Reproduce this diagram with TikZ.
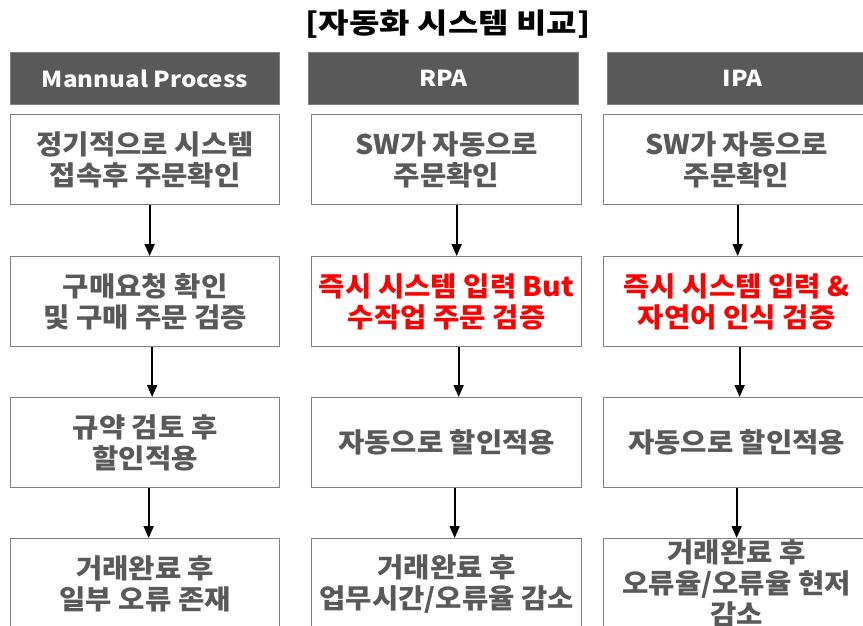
\documentclass[tikz,border=0pt]{standalone}
\usepackage{fontspec}
\setmainfont{Noto Sans CJK KR}
\newfontfamily\boxfont{Noto Sans CJK KR}[FakeStretch=1.06]
\newfontfamily\titlefont{Noto Sans CJK KR}[FakeStretch=1.18]
\newfontfamily\hdrfont{Noto Sans CJK KR}[FakeStretch=1.1]
\usetikzlibrary{arrows.meta}
\definecolor{hdr}{HTML}{595959}
\definecolor{txt}{HTML}{595959}
\definecolor{brd}{HTML}{808080}
\definecolor{hot}{HTML}{FF0000}
\begin{document}
\begin{tikzpicture}[x=1pt,y=-1pt,
  hdrbox/.style={draw=brd, line width=1pt, fill=hdr, text=white,
    font=\hdrfont\bfseries\fontsize{22}{26}\selectfont,
    minimum height=52pt, inner sep=0pt, anchor=north west},
  stepbox/.style={draw=brd, line width=1.3pt, fill=white, text=txt,
    font=\boxfont\bfseries\fontsize{27}{31}\selectfont, align=center,
    minimum height=90pt, inner sep=0pt, anchor=north west},
  hotbox/.style={stepbox, text=hot},
  flow/.style={-{Triangle[length=12pt,width=10pt]}, line width=1.8pt, black}]
\useasboundingbox (0,0) rectangle (863,625);
\clip (0,0) rectangle (863,625);
\fill[white] (0,0) rectangle (863,625);

\node[font=\titlefont\bfseries\fontsize{28}{32}\selectfont, text=black] (title) at (448,24) {[자동화 시스템 비교]};

% headers
\node[hdrbox, minimum width=269pt] (h1) at (10,52) {Mannual Process};
\node[hdrbox, minimum width=270pt] (h2) at (308,52) {RPA};
\node[hdrbox, minimum width=270pt] (h3) at (607,52) {IPA};

% column 1
\node[stepbox, minimum width=269pt] (a1) at (10,114) {정기적으로 시스템\\접속후 주문확인};
\node[stepbox, minimum width=269pt] (a2) at (10,256) {구매요청 확인\\및 구매 주문 검증};
\node[stepbox, minimum width=269pt] (a3) at (10,397) {규약 검토 후\\할인적용};
\node[stepbox, minimum width=269pt] (a4) at (10,538) {거래완료 후\\일부 오류 존재};

% column 2
\node[stepbox, minimum width=270pt] (b1) at (311,114) {SW가 자동으로\\주문확인};
\node[hotbox, minimum width=270pt] (b2) at (311,256) {즉시 시스템 입력 But\\수작업 주문 검증};
\node[stepbox, minimum width=270pt] (b3) at (311,397) {자동으로 할인적용};
\node[stepbox, minimum width=270pt] (b4) at (311,538) {거래완료 후\\업무시간/오류율 감소};

% column 3
\node[stepbox, minimum width=266pt] (c1) at (603,114) {SW가 자동으로\\주문확인};
\node[hotbox, minimum width=266pt] (c2) at (603,256) {즉시 시스템 입력 \&\\자연어 인식 검증};
\node[stepbox, minimum width=266pt] (c3) at (603,397) {자동으로 할인적용};
\node[stepbox, minimum width=266pt] (c4) at (603,538) {거래완료 후\\오류율/오류율 현저\\감소};

% arrows
\draw[flow] ([xshift=4.5pt]a1.south) -- ([xshift=4.5pt]a2.north);
\draw[flow] ([xshift=7pt]a2.south) -- ([xshift=7pt]a3.north);
\draw[flow] ([xshift=3.5pt]a3.south) -- ([xshift=3.5pt]a4.north);
\draw[flow] ([xshift=10pt]b1.south) -- ([xshift=10pt]b2.north);
\draw[flow] ([xshift=12pt]b2.south) -- ([xshift=12pt]b3.north);
\draw[flow] ([xshift=8pt]b3.south) -- ([xshift=8pt]b4.north);
\draw[flow] ([xshift=1pt]c1.south) -- ([xshift=1pt]c2.north);
\draw[flow] ([xshift=3pt]c2.south) -- ([xshift=3pt]c3.north);
\draw[flow] ([xshift=0pt]c3.south) -- ([xshift=0pt]c4.north);
\end{tikzpicture}
\end{document}
